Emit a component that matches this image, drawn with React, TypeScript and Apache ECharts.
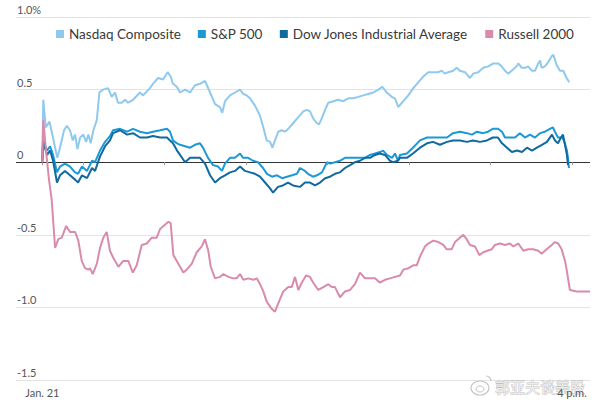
import React, { useEffect, useRef } from "react";
import * as echarts from "echarts";

// x: minutes since 9:30 a.m. (Jan. 21), y: % change
const nasdaq: [number, number][] = [
  [0,0.01],[0.7,0.43],[2.5,0.24],[5.2,0.28],[6.9,0.21],[9.4,0.10],[11.0,0.03],[13.0,0.10],[16.0,0.22],[18.0,0.25],[20.4,0.22],[22.4,0.15],[24.1,0.19],[25.8,0.09],[27.8,0.17],[30.2,0.19],[32.2,0.14],[33.9,0.19],[35.6,0.13],[37.6,0.22],[40.1,0.29],[42.0,0.48],[44.7,0.50],[48.4,0.51],[51.1,0.45],[53.5,0.48],[55.7,0.41],[58.5,0.41],[60.9,0.43],[63.1,0.41],[66.8,0.43],[71.9,0.48],[74.1,0.46],[79.3,0.51],[81.5,0.54],[85.2,0.58],[88.9,0.57],[92.3,0.62],[94.5,0.59],[96.2,0.54],[99.0,0.52],[101.4,0.48],[105.1,0.50],[108.8,0.48],[112.4,0.53],[116.1,0.54],[119.8,0.56],[123.5,0.48],[127.2,0.40],[130.8,0.38],[132.5,0.34],[134.5,0.42],[138.2,0.46],[141.9,0.48],[145.6,0.50],[148.0,0.47],[150.5,0.46],[152.9,0.44],[156.6,0.39],[160.3,0.32],[162.7,0.24],[165.2,0.15],[167.7,0.14],[169.4,0.10],[171.3,0.15],[173.8,0.21],[176.3,0.22],[178.7,0.21],[181.1,0.23],[184.8,0.27],[188.5,0.31],[192.2,0.35],[194.7,0.36],[197.1,0.35],[199.5,0.30],[202.0,0.27],[203.7,0.26],[205.7,0.30],[208.2,0.36],[210.6,0.41],[214.3,0.42],[217.9,0.43],[221.6,0.42],[225.3,0.44],[229.0,0.44],[232.7,0.45],[236.3,0.46],[240.0,0.47],[243.7,0.48],[247.4,0.50],[250.3,0.52],[253.6,0.48],[257.3,0.45],[259.7,0.44],[262.1,0.38],[265.8,0.42],[269.5,0.46],[273.2,0.51],[276.8,0.55],[280.5,0.59],[284.2,0.62],[287.9,0.62],[291.6,0.62],[294.1,0.63],[296.5,0.61],[298.9,0.62],[302.6,0.63],[305.1,0.65],[307.5,0.63],[311.2,0.62],[314.9,0.58],[317.3,0.61],[321.0,0.62],[324.7,0.65],[328.4,0.66],[332.1,0.68],[335.8,0.68],[338.2,0.66],[340.7,0.63],[343.1,0.61],[345.6,0.63],[349.3,0.66],[350.5,0.68],[353.0,0.65],[355.4,0.65],[357.8,0.66],[360.4,0.63],[362.8,0.63],[365.2,0.68],[366.5,0.70],[367.7,0.65],[370.1,0.66],[372.6,0.69],[375.1,0.73],[376.3,0.74],[378.7,0.67],[381.2,0.63],[383.6,0.63],[386.1,0.58],[388.0,0.55]
];

const sp500: [number, number][] = [
  [0,0.01],[0.5,0.15],[3.5,0.08],[5.7,0.11],[7.9,0.05],[10.8,-0.07],[13.0,-0.03],[16.7,-0.01],[20.4,-0.03],[24.1,-0.07],[26.3,-0.08],[29.2,-0.03],[32.9,-0.06],[36.6,0.01],[38.8,0.00],[42.5,0.08],[46.2,0.14],[49.8,0.18],[52.1,0.22],[57.2,0.23],[62.4,0.21],[66.8,0.23],[71.9,0.21],[77.1,0.20],[81.5,0.21],[86.7,0.22],[91.8,0.23],[94.0,0.21],[96.2,0.15],[99.2,0.13],[101.4,0.12],[105.1,0.11],[108.8,0.10],[112.4,0.12],[116.1,0.13],[118.3,0.10],[122.0,0.03],[125.7,-0.02],[129.4,-0.03],[132.3,-0.06],[134.5,-0.01],[138.2,0.03],[141.9,0.03],[145.6,0.06],[147.8,0.03],[151.5,0.03],[155.1,0.01],[158.8,0.00],[162.5,-0.04],[165.4,-0.08],[169.1,-0.10],[172.8,-0.09],[176.5,-0.11],[180.2,-0.10],[183.9,-0.09],[187.5,-0.08],[189.7,-0.04],[193.4,-0.06],[195.6,-0.08],[199.3,-0.10],[202.3,-0.09],[205.9,-0.07],[209.6,0.00],[211.8,-0.01],[215.5,0.00],[219.2,0.01],[222.9,0.03],[226.6,0.03],[230.2,0.03],[233.9,0.03],[237.6,0.03],[241.3,0.05],[245.0,0.06],[248.6,0.07],[250.9,0.08],[253.8,0.05],[257.5,0.03],[259.7,0.06],[261.9,0.01],[263.4,0.05],[268.5,0.06],[272.9,0.10],[278.1,0.15],[283.3,0.17],[287.7,0.17],[292.8,0.17],[298.0,0.17],[302.4,0.20],[307.5,0.21],[312.7,0.20],[316.4,0.19],[320.1,0.21],[324.5,0.20],[328.2,0.21],[331.8,0.23],[335.5,0.23],[338.5,0.21],[340.7,0.17],[344.4,0.17],[348.1,0.17],[351.7,0.20],[355.4,0.17],[359.1,0.19],[362.8,0.17],[366.5,0.20],[370.1,0.21],[373.8,0.23],[376.0,0.24],[377.5,0.21],[379.7,0.17],[382.7,0.17],[384.1,0.15],[386.3,0.08],[387.1,0.03],[387.8,-0.04]
];

const dow: [number, number][] = [
  [0,0.00],[0.5,0.14],[3.5,0.05],[5.7,0.08],[7.9,0.01],[10.8,-0.14],[13.0,-0.09],[16.7,-0.06],[20.4,-0.09],[24.1,-0.12],[26.3,-0.14],[29.2,-0.09],[32.9,-0.11],[36.6,-0.04],[38.8,-0.06],[42.5,0.04],[46.2,0.11],[49.8,0.15],[52.1,0.20],[57.2,0.22],[62.4,0.19],[66.8,0.20],[71.9,0.17],[77.1,0.17],[81.5,0.18],[86.7,0.17],[91.8,0.17],[94.0,0.15],[96.2,0.13],[99.2,0.08],[101.4,0.05],[105.1,0.00],[108.8,0.03],[112.4,0.03],[116.1,0.03],[119.8,-0.01],[123.5,-0.09],[127.2,-0.14],[130.8,-0.11],[134.5,-0.09],[138.2,-0.07],[141.9,-0.06],[145.6,-0.03],[149.2,-0.06],[152.9,-0.07],[156.6,-0.08],[160.3,-0.10],[164.0,-0.14],[167.7,-0.18],[169.9,-0.21],[173.5,-0.17],[177.2,-0.16],[180.9,-0.14],[184.6,-0.16],[189.7,-0.17],[193.4,-0.14],[197.1,-0.14],[200.8,-0.16],[204.5,-0.14],[208.2,-0.11],[211.8,-0.10],[215.5,-0.08],[219.2,-0.07],[222.9,-0.04],[226.6,-0.02],[230.2,0.00],[233.9,0.01],[237.6,0.03],[241.3,0.03],[245.0,0.05],[248.6,0.06],[252.3,0.05],[256.0,0.01],[258.2,0.00],[261.9,0.01],[263.4,0.03],[268.5,0.03],[272.9,0.06],[278.1,0.10],[283.3,0.13],[287.7,0.14],[292.8,0.12],[298.0,0.14],[302.4,0.15],[307.5,0.15],[312.7,0.14],[317.1,0.15],[322.3,0.14],[327.4,0.15],[331.8,0.17],[335.5,0.17],[338.5,0.13],[342.2,0.10],[345.8,0.07],[349.5,0.08],[353.2,0.07],[356.9,0.10],[360.6,0.08],[364.2,0.10],[367.9,0.12],[371.6,0.14],[375.3,0.19],[377.5,0.15],[379.7,0.13],[381.9,0.17],[383.4,0.19],[384.9,0.12],[386.3,0.05],[387.1,-0.02]
];

const russell: [number, number][] = [
  [0,0.00],[0.7,0.29],[2.7,0.08],[4.9,-0.12],[6.9,-0.26],[9.4,-0.59],[11.8,-0.53],[14.3,-0.52],[17.5,-0.44],[20.4,-0.48],[24.1,-0.48],[26.5,-0.54],[29.0,-0.68],[31.4,-0.73],[33.9,-0.74],[35.1,-0.73],[37.1,-0.77],[40.1,-0.70],[42.5,-0.59],[44.9,-0.52],[47.4,-0.48],[49.8,-0.61],[52.3,-0.66],[56.0,-0.72],[59.6,-0.68],[63.3,-0.68],[66.6,-0.76],[69.5,-0.71],[73.2,-0.57],[76.9,-0.56],[80.6,-0.52],[84.2,-0.52],[86.7,-0.46],[90.3,-0.43],[92.8,-0.41],[94.5,-0.42],[96.5,-0.64],[99.0,-0.68],[101.4,-0.72],[103.8,-0.76],[106.3,-0.74],[110.0,-0.70],[113.7,-0.62],[117.4,-0.58],[119.8,-0.53],[122.2,-0.61],[124.0,-0.72],[127.2,-0.80],[130.8,-0.79],[133.3,-0.77],[137.0,-0.79],[140.6,-0.80],[143.1,-0.80],[145.6,-0.77],[148.0,-0.81],[151.7,-0.80],[155.4,-0.81],[157.9,-0.80],[160.3,-0.84],[162.7,-0.89],[165.2,-0.96],[168.9,-1.01],[171.3,-1.03],[173.8,-0.97],[177.4,-0.89],[181.1,-0.86],[183.6,-0.86],[186.1,-0.79],[188.5,-0.88],[191.0,-0.83],[194.2,-0.78],[197.1,-0.79],[199.5,-0.83],[203.2,-0.88],[206.9,-0.86],[210.6,-0.84],[213.1,-0.86],[215.5,-0.86],[219.2,-0.93],[222.9,-0.89],[226.6,-0.88],[230.2,-0.84],[233.9,-0.76],[237.6,-0.80],[241.3,-0.80],[245.0,-0.80],[248.6,-0.83],[252.3,-0.81],[256.0,-0.80],[259.7,-0.79],[263.4,-0.78],[265.8,-0.74],[269.5,-0.73],[273.2,-0.71],[275.7,-0.71],[278.1,-0.65],[281.8,-0.58],[284.2,-0.56],[287.9,-0.54],[291.6,-0.55],[295.3,-0.57],[297.8,-0.60],[301.4,-0.60],[303.9,-0.55],[307.5,-0.52],[310.0,-0.50],[312.5,-0.53],[314.9,-0.57],[318.6,-0.58],[321.8,-0.64],[324.7,-0.62],[327.7,-0.61],[330.9,-0.60],[333.3,-0.57],[337.0,-0.56],[340.7,-0.57],[344.4,-0.56],[346.8,-0.58],[350.5,-0.56],[354.2,-0.61],[357.8,-0.60],[361.5,-0.60],[365.2,-0.61],[367.7,-0.63],[371.4,-0.60],[375.1,-0.57],[377.5,-0.55],[379.9,-0.56],[382.4,-0.60],[384.9,-0.68],[386.1,-0.74],[387.3,-0.81],[388.5,-0.88],[393.5,-0.89],[403.3,-0.89]
];

const seriesNames = ["Nasdaq Composite", "S&P 500", "Dow Jones Industrial Average", "Russell 2000"];
const seriesColors = ["#8fc9ee", "#1b98d6", "#10699f", "#d98bad"];
const xTickMinutes = [0, 30, 90, 150, 210, 270, 330, 390];
const xLabelMinutes = [0, 390];
const xLabelTexts = ["Jan. 21", "4 p.m."];
const yMin = -1.5;
const yMax = 1.0;
const yStep = 0.5;
const xMin = -19.4;
const xMax = 403.3;
const watermark = "郭亚夫谈美股";

const FONT = "Lato, 'DejaVu Sans', sans-serif";

export default function App() {
  const ref = useRef<HTMLDivElement>(null);
  useEffect(() => {
    if (!ref.current) return;
    const chart = echarts.init(ref.current, undefined, { renderer: "svg" });
    const dataSets = [nasdaq, sp500, dow, russell];
    const gridColors = ["#e3e3e3", "#e3e3e3", "#e3e3e3", "#333333", "#e3e3e3", "#e3e3e3"];
    chart.setOption({
      animation: false,
      backgroundColor: "#ffffff",
      textStyle: { fontFamily: FONT },
      grid: { left: 16, right: 10, top: 17, bottom: 24, containLabel: false },
      legend: {
        left: 51,
        top: 22,
        icon: "rect",
        itemWidth: 8,
        itemHeight: 8,
        itemGap: 17,
        selectedMode: false,
        textStyle: { fontSize: 13.5, color: "#3a3a3a", fontFamily: FONT },
        data: seriesNames,
      },
      xAxis: {
        type: "value",
        min: xMin,
        max: xMax,
        z: 5,
        axisLine: { show: false },
        splitLine: { show: false },
        axisTick: {
          show: true,
          length: 3,
          customValues: xTickMinutes,
          lineStyle: { color: "#999" },
        },
        axisLabel: {
          customValues: xLabelMinutes,
          margin: 7,
          fontSize: 11,
          color: "#555",
          fontFamily: FONT,
          formatter: (v: number) => {
            const i = xLabelMinutes.indexOf(v);
            return i >= 0 ? xLabelTexts[i] : "";
          },
        },
      },
      yAxis: {
        type: "value",
        min: yMin,
        max: yMax,
        interval: yStep,
        axisLine: { show: false },
        axisTick: { show: false },
        splitLine: { show: true, lineStyle: { color: gridColors, width: 1 } },
        axisLabel: {
          inside: true,
          margin: 1,
          align: "left",
          verticalAlign: "bottom",
          padding: [0, 0, 2, 0],
          fontSize: 11,
          color: "#555",
          fontFamily: FONT,
          formatter: (v: number) => {
            if (Math.abs(v - yMax) < 1e-9) return v.toFixed(1) + "%";
            if (Math.abs(v) < 1e-9) return "0";
            return v.toFixed(1);
          },
        },
        z: 0,
      },
      graphic: [
        {
          type: "ellipse",
          shape: { cx: 480, cy: 388, rx: 9, ry: 7 },
          style: { fill: "none", stroke: "#c4c4c4", lineWidth: 1.2 },
          z: 1,
        },
        {
          type: "ellipse",
          shape: { cx: 480, cy: 389, rx: 4, ry: 3 },
          style: { fill: "none", stroke: "#c4c4c4", lineWidth: 1 },
          z: 1,
        },
        {
          type: "arc",
          shape: { cx: 486, cy: 381, r: 5, startAngle: -Math.PI / 2, endAngle: 0 },
          style: { fill: "none", stroke: "#c4c4c4", lineWidth: 1.2 },
          z: 1,
        },
        {
          type: "text",
          x: 495,
          y: 379,
          z: 1,
          style: {
            text: watermark,
            fontSize: 15,
            fontFamily: "'Noto Sans CJK SC', sans-serif",
            fill: "rgba(240,240,240,0.95)",
            stroke: "rgba(175,175,175,0.8)",
            lineWidth: 0.8,
          },
        },
      ],
      series: seriesNames.map((name, i) => ({
        name,
        type: "line",
        data: dataSets[i],
        showSymbol: false,
        symbol: "none",
        smooth: false,
        color: seriesColors[i],
        lineStyle: { color: seriesColors[i], width: 2 },
        z: 3 + i,
      })),
    });
    return () => chart.dispose();
  }, []);
  return (
    <div
      ref={ref}
      style={{ position: "absolute", left: 0, top: 0, width: 600, height: 404 }}
    />
  );
}
